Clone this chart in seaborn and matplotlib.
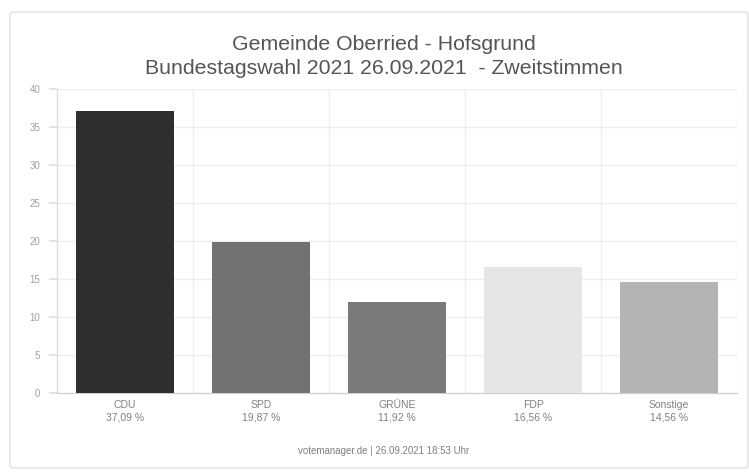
import matplotlib
matplotlib.use("Agg")
import matplotlib.pyplot as plt
import seaborn as sns
import pandas as pd
from matplotlib.patches import FancyBboxPatch

# Daten
parteien = ['CDU', 'SPD', 'GRÜNE', 'FDP', 'Sonstige']
anteile = [37.09, 19.87, 11.92, 16.56, 14.56]
anteil_labels = ['37,09 %', '19,87 %', '11,92 %', '16,56 %', '14,56 %']
farben = ['#2e2e2e', '#727272', '#7a7a7a', '#e6e6e6', '#b4b4b4']
y_ticks = [0, 5, 10, 15, 20, 25, 30, 35, 40]

sns.set_theme(style='white')
plt.rcParams['font.family'] = ['Liberation Sans', 'DejaVu Sans']

df = pd.DataFrame({'Partei': parteien, 'Anteil': anteile})

fig = plt.figure(figsize=(7.49, 4.72), dpi=100)
fig.patch.set_facecolor('white')

# Rahmen um die Grafik
rahmen = FancyBboxPatch((10 / 749, 4 / 472), 738 / 749, 456 / 472,
                        boxstyle='round,pad=0,rounding_size=0.006',
                        transform=fig.transFigure, facecolor='white',
                        edgecolor='#e2e2e2', linewidth=1.0, zorder=-5)
fig.patches.append(rahmen)

ax = fig.add_axes([57 / 749, 1 - 393 / 472, 680 / 749, 304 / 472])
ax.set_facecolor('none')

sns.barplot(data=df, x='Partei', y='Anteil', hue='Partei', palette=farben,
            dodge=False, legend=False, width=0.72, saturation=1, ax=ax,
            edgecolor='none', zorder=3)

ax.set_ylim(0, 40)
ax.set_xlim(-0.5, len(parteien) - 0.5)
ax.set_yticks(y_ticks)
ax.set_yticklabels([str(t) for t in y_ticks], fontsize=7, color='#a0a0a0')
ax.set_xticks(range(len(parteien)))
ax.set_xticklabels([p + '\n' + a for p, a in zip(parteien, anteil_labels)],
                   fontsize=7.5, color='#808080', linespacing=1.35)
ax.tick_params(axis='x', length=0, pad=5)
ax.tick_params(axis='y', length=6, color='#e0e0e0', pad=6, left=True)
ax.set_xlabel('')
ax.set_ylabel('')

# Gitterlinien
for t in y_ticks:
    ax.axhline(t, color='#ececec', linewidth=0.9, zorder=1)
for i in range(len(parteien) + 1):
    ax.axvline(i - 0.5, color='#ececec', linewidth=0.9, zorder=1)

for s in ['top', 'right']:
    ax.spines[s].set_visible(False)
ax.spines['left'].set_color('#dcdcdc')
ax.spines['bottom'].set_color('#cfcfcf')
ax.spines['left'].set_linewidth(0.9)
ax.spines['bottom'].set_linewidth(0.9)

# Titel
fig.text(0.512, 1 - 45 / 472, 'Gemeinde Oberried - Hofsgrund', ha='center',
         va='center', fontsize=15.3, color='#555555')
fig.text(0.512, 1 - 68 / 472, 'Bundestagswahl 2021 26.09.2021  - Zweitstimmen',
         ha='center', va='center', fontsize=15.3, color='#555555')

# Fußzeile
fig.text(0.512, 1 - 451 / 472, 'votemanager.de | 26.09.2021 18:53 Uhr',
         ha='center', va='center', fontsize=7, color='#808080')

fig.savefig('out.png', dpi=100)
